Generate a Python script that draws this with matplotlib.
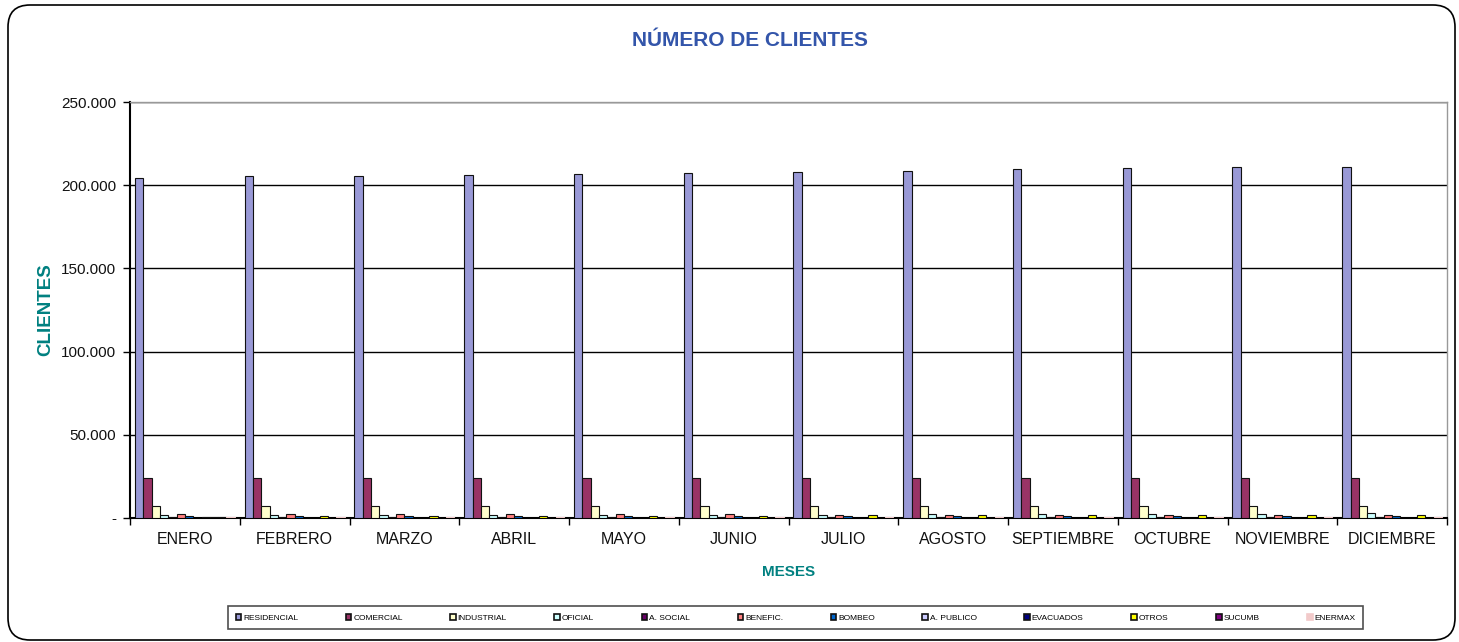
import numpy as np
import matplotlib.pyplot as plt
from matplotlib.patches import FancyBboxPatch, Patch
from matplotlib.ticker import FuncFormatter, MultipleLocator

plt.rcParams['font.family'] = ['Liberation Sans', 'DejaVu Sans']

meses = ["ENERO", "FEBRERO", "MARZO", "ABRIL", "MAYO", "JUNIO", "JULIO",
         "AGOSTO", "SEPTIEMBRE", "OCTUBRE", "NOVIEMBRE", "DICIEMBRE"]

series = ["RESIDENCIAL", "COMERCIAL", "INDUSTRIAL", "OFICIAL", "A. SOCIAL",
          "BENEFIC.", "BOMBEO", "A. PUBLICO", "EVACUADOS", "OTROS", "SUCUMB",
          "ENERMAX"]

residencial = [204300, 205300, 205400, 206000, 207000, 207200,
               207800, 208500, 209600, 210200, 210800, 211000]
comercial = [24000, 24000, 24000, 24100, 24100, 24100,
             24200, 24200, 24200, 24300, 24300, 24300]
industrial = [7300, 7300, 7300, 7300, 7300, 7300,
              7300, 7300, 7300, 7300, 7300, 7300]
oficial = [1800, 1800, 1900, 1900, 2000, 2000,
           2100, 2200, 2400, 2500, 2700, 2800]
a_social = [700, 700, 700, 700, 700, 700, 700, 700, 700, 700, 700, 700]
benefic = [2600, 2600, 2600, 2600, 2600, 2600,
           1800, 1800, 1800, 1800, 1800, 1800]
bombeo = [1000, 1000, 1000, 1000, 1000, 1000,
          1000, 1000, 1000, 1000, 1000, 1000]
a_publico = [0, 0, 0, 0, 0, 0, 0, 0, 0, 0, 0, 0]
evacuados = [700, 0, 0, 0, 0, 0, 0, 0, 0, 0, 0, 0]
otros = [900, 1000, 1000, 1000, 1000, 1000,
         1700, 1700, 1700, 1700, 1700, 1800]
sucumb = [700, 0, 0, 0, 0, 0, 0, 0, 0, 0, 0, 0]
enermax = [600, 600, 600, 600, 600, 600, 600, 600, 600, 600, 600, 600]

valores = [residencial, comercial, industrial, oficial, a_social, benefic,
           bombeo, a_publico, evacuados, otros, sucumb, enermax]

colores = ["#9999D6", "#993366", "#FFFFCC", "#CCFFFF", "#660066", "#FF8080",
           "#0066CC", "#CCCCFF", "#000080", "#FFFF00", "#800080", "#F2CACA"]
bordes = ["#111111"] * 11 + ["#F2CACA"]

fig = plt.figure(figsize=(14.59, 6.42), dpi=100)
ax = fig.add_axes([130 / 1459, 1 - 518 / 642, 1317 / 1459, 416 / 642])

x = np.arange(len(meses))
grupo = 0.91
w = grupo / len(series)
for i, (nombre, vals) in enumerate(zip(series, valores)):
    pos = x - grupo / 2 + w * (i + 0.5)
    alto = np.where(np.array(vals) == 0, np.nan, vals)
    ax.bar(pos, alto, width=w, color=colores[i], edgecolor=bordes[i],
           linewidth=0.8, label=nombre, zorder=3)

ax.set_xlim(-0.5, len(meses) - 0.5)
ax.set_ylim(0, 250000)
ax.yaxis.set_major_locator(MultipleLocator(50000))
ax.yaxis.set_major_formatter(FuncFormatter(
    lambda v, p: "-" if v == 0 else f"{int(v):,}".replace(",", ".")))
ax.grid(axis="y", color="black", linewidth=1, zorder=0)
ax.set_xticks(x)
ax.set_xticklabels(meses, fontsize=11.5, color="#111111")
ax.set_xticks(np.arange(-0.5, len(meses)), minor=True)
ax.tick_params(axis="x", which="major", length=0, pad=10)
ax.tick_params(axis="x", which="minor", length=5, width=1, direction="out")
ax.tick_params(axis="y", length=5, width=1, labelsize=11, pad=5,
               labelcolor="#111111")

for s in ["left", "bottom"]:
    ax.spines[s].set_linewidth(1.5)
    ax.spines[s].set_color("black")
for s in ["top", "right"]:
    ax.spines[s].set_color("#999999")
    ax.spines[s].set_linewidth(1)

ax.set_xlabel("MESES", fontsize=11, fontweight="bold", color="#008080",
              labelpad=13)
ax.set_ylabel("CLIENTES", fontsize=13.5, fontweight="bold", color="#008080",
              labelpad=5)
fig.text(750 / 1459, 1 - 40 / 642, "NÚMERO DE CLIENTES", ha="center",
         va="center", fontsize=15, fontweight="bold", color="#3355AA")

handles = [Patch(facecolor=colores[i], edgecolor=bordes[i] if i < 11 else colores[i],
                 linewidth=1.2) for i in range(len(series))]
leg = fig.legend(handles, series, loc="lower left", ncol=12, mode="expand",
                 bbox_to_anchor=(228 / 1459, 1 - 629 / 642, 1135 / 1459, 29 / 642),
                 fontsize=6, handlelength=0.7, handleheight=0.7,
                 handletextpad=0.2, borderaxespad=0, fancybox=False,
                 borderpad=0.9, frameon=True)
leg.get_frame().set_edgecolor("#222222")
leg.get_frame().set_linewidth(1.2)

borde = FancyBboxPatch((0.08, 0.02), 14.47, 6.35,
                       boxstyle="round,pad=0,rounding_size=0.22",
                       transform=fig.dpi_scale_trans, facecolor="none",
                       edgecolor="black", linewidth=1.2)
fig.patches.append(borde)

fig.savefig("out.png", dpi=100)
